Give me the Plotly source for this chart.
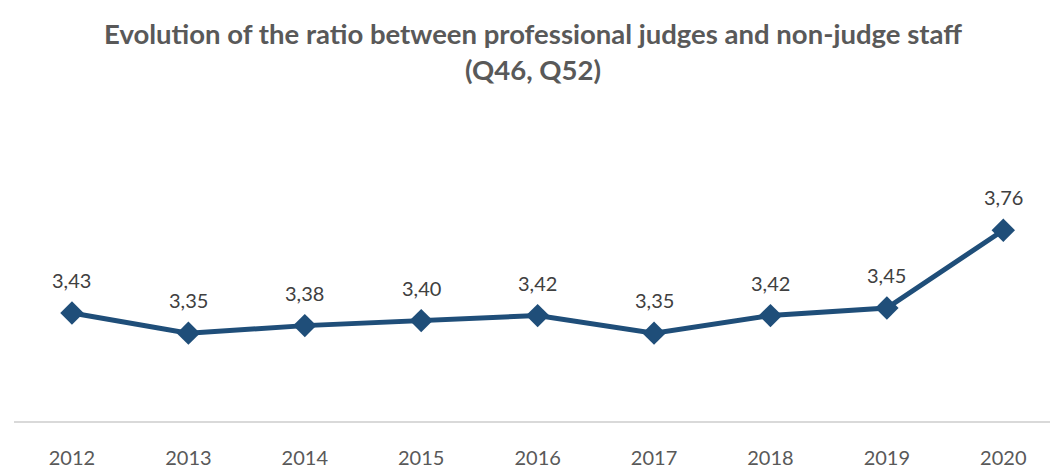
import plotly.graph_objects as go

years = ["2012", "2013", "2014", "2015", "2016", "2017", "2018", "2019", "2020"]
ratios = [3.43, 3.35, 3.38, 3.40, 3.42, 3.35, 3.42, 3.45, 3.76]

line_color = "#1F4E79"
font_family = "Lato, 'Open Sans', sans-serif"

fig = go.Figure()
fig.add_trace(go.Scatter(
    x=list(range(len(years))), y=ratios, mode="lines+markers",
    line=dict(color=line_color, width=5),
    marker=dict(symbol="diamond", size=18, color=line_color),
    hoverinfo="skip", showlegend=False,
))

for i, v in enumerate(ratios):
    fig.add_annotation(
        x=i, y=v, text=f"{v:.2f}".replace(".", ","), showarrow=False,
        yshift=33, font=dict(family=font_family, size=20, color="#404040"),
    )

fig.update_layout(
    width=1050, height=461,
    margin=dict(l=6, r=0, t=162, b=45),
    paper_bgcolor="white", plot_bgcolor="white",
    title=dict(
        text="<b>Evolution of the ratio between professional judges and non-judge staff<br>(Q46, Q52)</b>",
        x=0.5, xanchor="center", y=0.922, yanchor="top", yref="container",
        font=dict(family=font_family, size=27.5, color="#595959"),
    ),
)
fig.update_xaxes(
    range=[-0.498, 8.47], tickmode="array", tickvals=list(range(len(years))), ticktext=years,
    showgrid=False, zeroline=False, showline=True, linecolor="#D9D9D9", linewidth=1.5,
    ticks="", ticklabelstandoff=18,
    tickfont=dict(family=font_family, size=20, color="#595959"),
)
fig.update_yaxes(range=[3.0, 4.0], visible=False, showgrid=False, zeroline=False)

fig.write_html("out.html")
